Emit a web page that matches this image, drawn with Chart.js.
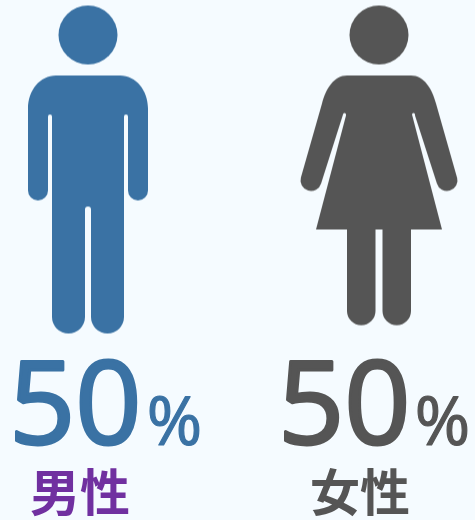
<!DOCTYPE html>
<html><head><meta charset="utf-8">
<script src="https://cdn.jsdelivr.net/npm/chart.js@4"></script>
<style>html,body{margin:0;padding:0;background:#f5fbff;overflow:hidden}canvas{display:block}</style>
</head><body><canvas id="c" width="475" height="520"></canvas>
<script>
const categories = ['男性', '女性'];
const shares = [50, 50];
const figureColors = ['#3a72a4', '#555555'];
const labelColors = ['#7030a0', '#555555'];

function makeFigure(color, trace) {
  const cv = document.createElement('canvas');
  cv.width = 180; cv.height = 340;
  const g = cv.getContext('2d');
  g.filter = 'blur(0.6px)';
  g.translate(90, 0);
  g.fillStyle = color;
  g.beginPath(); g.arc(0, 34.5, 29.5, 0, Math.PI * 2); g.fill();
  g.beginPath(); trace(g); g.closePath(); g.fill();
  return cv;
}
const PI = Math.PI;
function man(g) {
  g.moveTo(-32, 75); g.lineTo(32, 75);
  g.bezierCurveTo(48, 75, 60, 90, 60, 108);
  g.lineTo(60, 190); g.arc(50, 190, 10, 0, PI);
  g.lineTo(40, 116); g.arc(38, 116, 2, 0, PI, true);
  g.lineTo(36, 316.5); g.arc(19.5, 316.5, 16.5, 0, PI);
  g.lineTo(3, 209); g.arc(0, 209, 3, 0, PI, true);
  g.lineTo(-3, 316.5); g.arc(-19.5, 316.5, 16.5, 0, PI);
  g.lineTo(-36, 116); g.arc(-38, 116, 2, 0, PI, true);
  g.lineTo(-40, 190); g.arc(-50, 190, 10, 0, PI);
  g.lineTo(-60, 108);
  g.bezierCurveTo(-60, 90, -48, 75, -32, 75);
}
function woman(g) {
  g.moveTo(-32, 75); g.lineTo(32, 75);
  g.bezierCurveTo(45, 75, 53, 88, 57, 103);
  g.lineTo(78, 177); g.arc(68, 180, 10.5, -0.28, 2.86);
  g.lineTo(36, 115); g.arc(34.5, 114, 1.5, 0, PI, true);
  g.lineTo(63, 229); g.lineTo(32, 229);
  g.lineTo(32, 310.5); g.arc(17.75, 310.5, 14.25, 0, PI);
  g.lineTo(3.5, 229); g.lineTo(-3.5, 229);
  g.lineTo(-3.5, 310.5); g.arc(-17.75, 310.5, 14.25, 0, PI);
  g.lineTo(-32, 229); g.lineTo(-63, 229);
  g.lineTo(-33, 115); g.arc(-34.5, 114, 1.5, 0, PI, true);
  g.lineTo(-57.9, 182.9); g.arc(-68, 180, 10.5, PI - 2.86, PI + 0.28);
  g.lineTo(-57, 103);
  g.bezierCurveTo(-53, 88, -45, 75, -32, 75);
}
const figures = [makeFigure(figureColors[0], man), makeFigure(figureColors[1], woman)];

const captions = {
  id: 'captions',
  afterDatasetsDraw(chart) {
    const ctx = chart.ctx, pts = chart.getDatasetMeta(0).data;
    ctx.save();
    ctx.textBaseline = 'alphabetic';
    ctx.lineJoin = 'round';
    pts.forEach((p, i) => {
      ctx.fillStyle = ctx.strokeStyle = figureColors[i];
      ctx.textAlign = 'left';
      ctx.font = '400 116px "Open Sans"';
      ctx.lineWidth = 3;
      const numX = p.x - 79 - (i ? 22 : 0);
      const txt = String(shares[i]);
      ctx.fillText(txt, numX, 444);
      ctx.strokeText(txt, numX, 444);
      const w = ctx.measureText(txt).width;
      ctx.font = '400 67px "Open Sans"';
      ctx.lineWidth = 1.2;
      ctx.fillText('%', numX + w + (i ? 4 : 5), 444.5);
      ctx.strokeText('%', numX + w + (i ? 4 : 5), 444.5);
      ctx.fillStyle = labelColors[i];
      ctx.textAlign = 'center';
      ctx.font = 'bold 50px "Noto Sans CJK JP"';
      ctx.fillText(categories[i], p.x - (i ? 19 : 8), 511);
    });
    ctx.restore();
  }
};

new Chart(document.getElementById('c'), {
  type: 'line',
  data: {
    labels: categories,
    datasets: [{
      data: shares,
      showLine: false,
      clip: false,
      pointStyle: figures,
      pointRadius: 10
    }]
  },
  options: {
    responsive: false,
    animation: false,
    layout: { padding: { left: 88, right: 96, top: 0, bottom: 190 } },
    plugins: { legend: { display: false }, tooltip: { enabled: false }, title: { display: false } },
    scales: {
      x: { display: false, offset: false },
      y: { display: false, min: 0, max: 100 }
    }
  },
  plugins: [captions]
});
</script></body></html>
